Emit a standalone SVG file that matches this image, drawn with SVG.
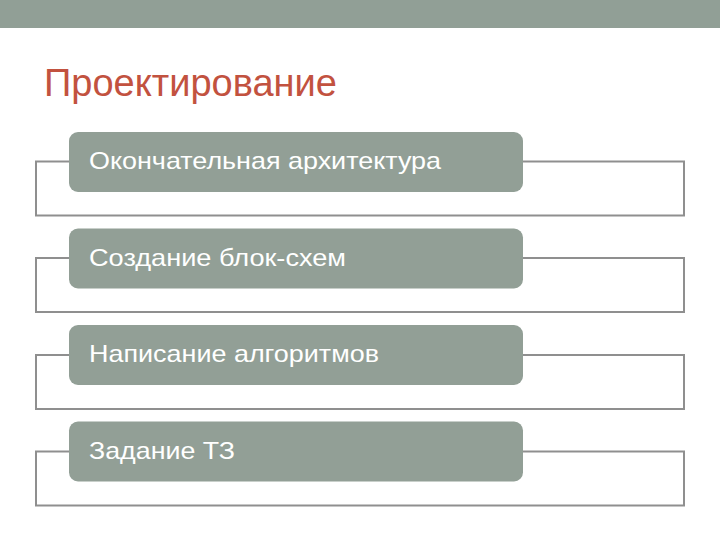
<svg xmlns="http://www.w3.org/2000/svg" width="720" height="540" viewBox="0 0 720 540">
<style>
.bar{fill:#919f96}
.title{font-family:"Liberation Sans",Arial,sans-serif;font-size:38px;fill:#c2523f}
.box{fill:#929f96}
.lbl{font-family:"Liberation Sans",Arial,sans-serif;font-size:24px;fill:#ffffff}
.br{fill:none;stroke:#8f8f8f;stroke-width:2}
</style>
<rect x="0" y="0" width="720" height="540" fill="#ffffff"/>
<rect class="bar" x="0" y="0" width="720" height="28"/>
<text class="title" x="44" y="96">Проектирование</text>
<g id="connectors">
<rect class="br" x="36" y="161.5" width="648" height="54"/>
<rect class="br" x="36" y="258" width="648" height="54"/>
<rect class="br" x="36" y="355" width="648" height="54"/>
<rect class="br" x="36" y="451.5" width="648" height="54"/>
</g>
<g id="n1"><rect class="box" x="69" y="132" width="454" height="60" rx="9"/><text class="lbl" x="89" y="169" textLength="352" lengthAdjust="spacingAndGlyphs">Окончательная архитектура</text></g>
<g id="n2"><rect class="box" x="69" y="228.5" width="454" height="60" rx="9"/><text class="lbl" x="89" y="266" textLength="257" lengthAdjust="spacingAndGlyphs">Создание блок-схем</text></g>
<g id="n3"><rect class="box" x="69" y="325" width="454" height="60" rx="9"/><text class="lbl" x="89" y="362" textLength="290" lengthAdjust="spacingAndGlyphs">Написание алгоритмов</text></g>
<g id="n4"><rect class="box" x="69" y="421.5" width="454" height="60" rx="9"/><text class="lbl" x="89" y="459" textLength="146" lengthAdjust="spacingAndGlyphs">Задание ТЗ</text></g>
</svg>
